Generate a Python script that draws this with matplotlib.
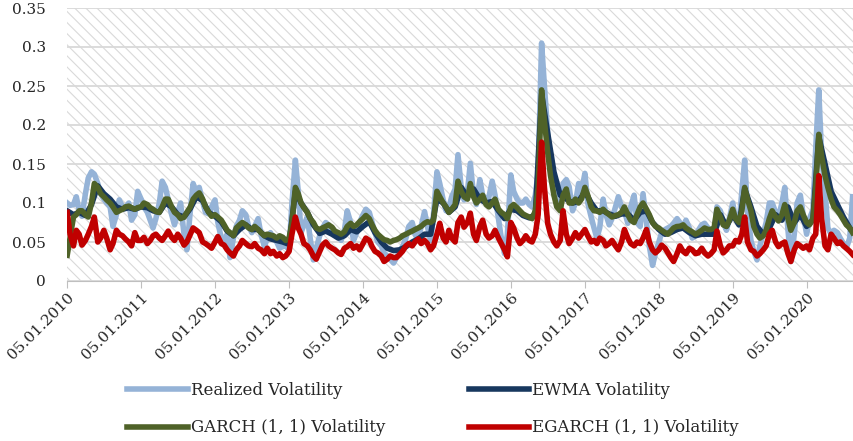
import matplotlib.pyplot as plt
import numpy as np
import pandas as pd
from matplotlib.patches import Rectangle

# semi-monthly observations, Jan 2010 .. Aug 2020
realized = [
    # 2010
    .100, .097, .098, .108, .090, .083, .112, .132, .140, .137, .125, .112,
    .105, .100, .095, .070, .085, .104, .095, .094, .100, .078, .085, .115,
    # 2011
    .105, .095, .088, .078, .068, .080, .100, .128, .120, .104, .085, .072,
    .088, .100, .060, .040, .090, .125, .112, .120, .102, .088, .086, .095,
    # 2012
    .104, .075, .055, .050, .060, .030, .055, .070, .078, .090, .085, .070,
    .062, .070, .080, .060, .044, .055, .062, .055, .050, .042, .045, .045,
    # 2013
    .040, .100, .155, .115, .062, .072, .082, .055, .027, .042, .058, .068,
    .075, .072, .065, .062, .058, .052, .065, .090, .075, .052, .062, .075,
    # 2014
    .085, .092, .088, .075, .062, .050, .045, .036, .032, .028, .023, .030,
    .038, .044, .055, .070, .075, .060, .052, .070, .089, .070, .052, .085,
    # 2015
    .140, .125, .104, .090, .094, .108, .118, .162, .120, .104, .115, .151,
    .110, .098, .130, .110, .104, .108, .128, .110, .080, .055, .035, .060,
    # 2016
    .136, .115, .105, .100, .100, .105, .098, .095, .110, .140, .305, .250,
    .190, .150, .115, .100, .092, .125, .130, .121, .090, .100, .125, .115,
    # 2017
    .138, .100, .082, .068, .055, .068, .105, .085, .072, .080, .095, .108,
    .095, .090, .074, .095, .110, .075, .070, .112, .075, .045, .020, .035,
    # 2018
    .050, .062, .066, .068, .070, .074, .080, .075, .070, .078, .068, .055,
    .058, .065, .072, .074, .068, .065, .061, .095, .090, .075, .065, .080,
    # 2019
    .100, .080, .072, .115, .155, .090, .052, .038, .027, .045, .061, .075,
    .100, .100, .088, .082, .100, .120, .065, .025, .060, .100, .110, .085,
    # 2020
    .060, .080, .091, .170, .245, .160, .115, .068, .060, .065, .062, .055,
    .048, .042, .055, .108,
]

garch = [
    .033, .055, .082, .085, .090, .090, .085, .082, .100, .125, .120, .112,
    .108, .104, .100, .095, .088, .090, .092, .095, .096, .094, .092, .094,
    .095, .100, .098, .094, .092, .089, .088, .095, .105, .105, .095, .088,
    .085, .080, .082, .088, .095, .105, .110, .113, .105, .095, .088, .083,
    .085, .082, .078, .072, .065, .062, .058, .068, .072, .075, .072, .068,
    .066, .070, .066, .062, .058, .060, .059, .058, .055, .058, .056, .052,
    .055, .075, .120, .112, .100, .094, .088, .080, .075, .068, .066, .068,
    .070, .072, .069, .064, .062, .060, .063, .070, .074, .070, .072, .076,
    .080, .084, .080, .072, .065, .060, .056, .053, .052, .050, .052, .053,
    .055, .058, .060, .062, .064, .066, .068, .070, .074, .076, .075, .078,
    .115, .108, .100, .095, .088, .092, .098, .128, .115, .108, .105, .125,
    .108, .100, .105, .110, .098, .095, .100, .105, .092, .088, .085, .080,
    .095, .098, .094, .090, .086, .084, .082, .080, .090, .120, .245, .205,
    .165, .135, .110, .095, .090, .110, .118, .100, .100, .105, .100, .105,
    .120, .110, .095, .090, .090, .088, .092, .088, .085, .082, .084, .085,
    .088, .095, .085, .078, .075, .085, .095, .100, .092, .085, .075, .070,
    .068, .065, .062, .060, .064, .068, .070, .070, .072, .068, .065, .063,
    .060, .062, .065, .068, .066, .066, .068, .092, .082, .072, .070, .078,
    .092, .080, .075, .090, .120, .105, .090, .070, .060, .055, .058, .065,
    .080, .090, .082, .077, .085, .098, .080, .065, .075, .090, .095, .085,
    .075, .072, .080, .120, .188, .160, .135, .120, .105, .095, .090, .085,
    .078, .072, .068, .062,
]

egarch = [
    .088, .060, .045, .065, .060, .046, .052, .060, .070, .082, .050, .055,
    .065, .055, .040, .048, .065, .060, .058, .054, .050, .045, .062, .052,
    .052, .056, .048, .052, .058, .060, .055, .052, .058, .064, .056, .052,
    .060, .055, .046, .050, .060, .068, .065, .062, .050, .048, .045, .042,
    .050, .057, .048, .046, .040, .036, .032, .040, .045, .052, .048, .045,
    .044, .048, .042, .040, .035, .042, .035, .038, .032, .035, .030, .032,
    .038, .060, .082, .068, .060, .048, .045, .040, .032, .028, .038, .046,
    .050, .045, .042, .040, .036, .034, .042, .044, .048, .042, .045, .040,
    .048, .055, .052, .044, .038, .036, .032, .025, .028, .032, .030, .030,
    .034, .038, .045, .048, .045, .050, .054, .048, .052, .048, .040, .045,
    .060, .074, .055, .050, .065, .055, .050, .075, .082, .069, .075, .087,
    .060, .052, .070, .078, .060, .055, .058, .065, .055, .048, .040, .031,
    .075, .068, .055, .048, .052, .058, .052, .050, .060, .085, .178, .120,
    .074, .060, .050, .045, .052, .090, .060, .048, .055, .062, .055, .060,
    .066, .058, .050, .052, .048, .055, .052, .045, .048, .052, .045, .040,
    .050, .066, .055, .048, .045, .050, .048, .055, .066, .050, .040, .036,
    .040, .046, .042, .036, .030, .025, .035, .045, .038, .035, .042, .040,
    .035, .036, .042, .036, .032, .035, .040, .064, .045, .036, .040, .045,
    .045, .052, .050, .060, .082, .050, .040, .038, .032, .035, .040, .045,
    .060, .065, .050, .044, .048, .050, .035, .025, .040, .048, .045, .042,
    .045, .040, .055, .060, .135, .080, .045, .040, .060, .055, .048, .050,
    .045, .042, .038, .034,
]

# monthly observations, Jan 2010 .. Aug 2020
ewma = [
    .090, .085, .088, .084, .098, .122, .112, .105, .095, .092, .094, .092,
    .095, .094, .090, .088, .100, .095, .085, .082, .093, .108, .103, .088,
    .083, .076, .064, .058, .066, .072, .066, .066, .058, .054, .052, .050,
    .047, .115, .100, .088, .072, .061, .064, .060, .055, .058, .066, .063,
    .070, .076, .062, .050, .042, .039, .040, .044, .050, .054, .060, .060,
    .105, .100, .088, .095, .120, .108, .118, .105, .100, .102, .090, .080,
    .092, .090, .084, .081, .085, .240, .190, .140, .110, .105, .100, .102,
    .115, .100, .090, .090, .086, .083, .086, .086, .078, .088, .090, .075,
    .066, .060, .062, .066, .068, .062, .058, .060, .060, .060, .085, .070,
    .085, .072, .118, .095, .070, .060, .068, .085, .078, .095, .075, .085,
    .070, .078, .185, .150, .115, .098, .082, .068,
]

years = list(range(2010, 2021))
tick_labels = [f"05.01.{y}" for y in years]

semi_dates = pd.date_range("2010-01-01", periods=len(realized), freq="SMS") + pd.Timedelta(days=4)
month_dates = pd.date_range("2010-01-01", periods=len(ewma), freq="MS") + pd.Timedelta(days=4)

plt.rcParams["font.family"] = ["DejaVu Serif"]
plt.rcParams["hatch.linewidth"] = 0.8

fig = plt.figure(figsize=(8.54, 4.41), dpi=100)
ax = fig.add_axes([67 / 854, 1 - 281 / 441, 787 / 854, 273 / 441])

ax.add_patch(Rectangle((0, 0), 1, 1, transform=ax.transAxes, facecolor="white",
                       edgecolor="#d9d9d9", hatch="\\\\\\", lw=0, zorder=0))

lw = 4.0
l_real, = ax.plot(semi_dates, realized, color="#95b3d7", lw=lw, label="Realized Volatility", zorder=2)
l_ewma, = ax.plot(month_dates, ewma, color="#17375e", lw=lw, label="EWMA Volatility", zorder=3)
l_garch, = ax.plot(semi_dates, garch, color="#4f6228", lw=lw, label="GARCH (1, 1) Volatility", zorder=4)
l_egarch, = ax.plot(semi_dates, egarch, color="#c00000", lw=lw, label="EGARCH (1, 1) Volatility", zorder=5)

ax.set_ylim(0, 0.35)
ax.set_yticks(np.arange(0, 0.351, 0.05))
ax.set_yticklabels(["0", "0.05", "0.1", "0.15", "0.2", "0.25", "0.3", "0.35"])
ax.set_xlim(pd.Timestamp("2010-01-04"), pd.Timestamp("2020-08-26"))
ax.set_xticks([pd.Timestamp(f"{y}-01-05") for y in years])
ax.set_xticklabels(tick_labels, rotation=45, ha="right", rotation_mode="anchor")

ax.yaxis.grid(True, color="#d9d9d9", lw=1.3, zorder=1)
ax.set_axisbelow(True)
for s in ["left", "top", "right"]:
    ax.spines[s].set_visible(False)
ax.spines["bottom"].set_color("#bfbfbf")
ax.spines["bottom"].set_zorder(1)
ax.tick_params(axis="y", length=0, pad=15, labelsize=11, colors="#262626")
ax.tick_params(axis="x", length=5, color="#bfbfbf", pad=2, labelsize=11, labelcolor="#262626")

fig.legend([l_real, l_garch, l_ewma, l_egarch],
           [l.get_label() for l in (l_real, l_garch, l_ewma, l_egarch)],
           ncol=2, loc="center", bbox_to_anchor=(433 / 854, 1 - 409 / 441),
           frameon=False, fontsize=12, handlelength=3.6, handletextpad=0.2,
           columnspacing=5.0, labelspacing=1.25, labelcolor="#262626")

fig.savefig("out.png", dpi=100)
